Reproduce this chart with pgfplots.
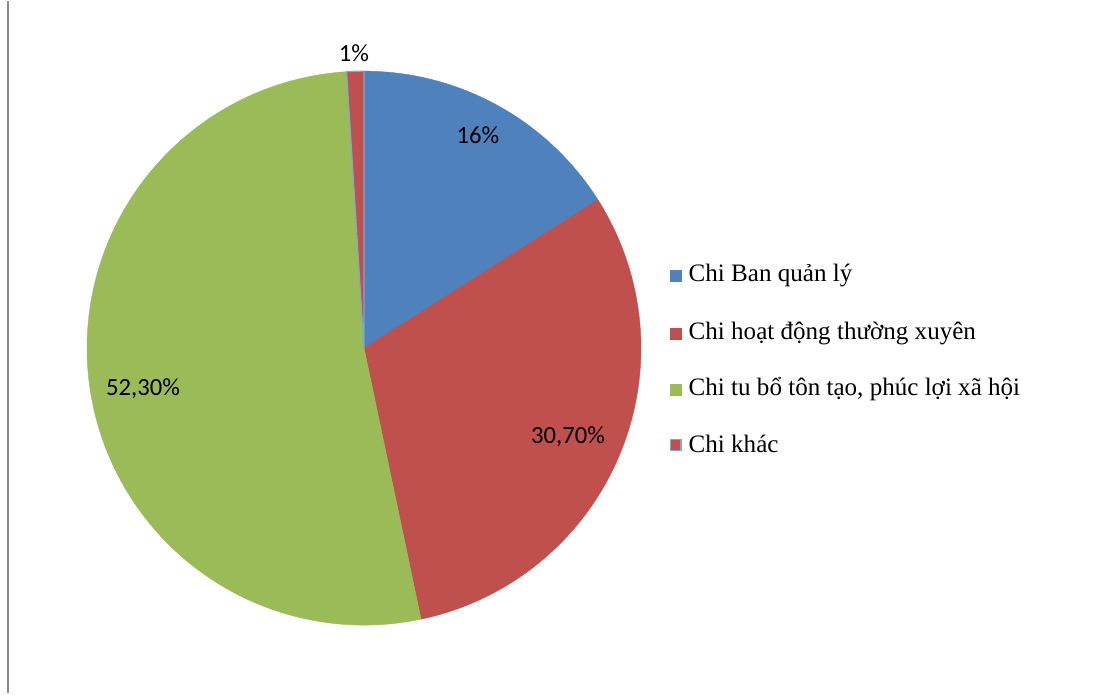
\documentclass[border=0pt]{standalone}
\usepackage{fontspec}
\setmainfont{Liberation Serif}
\newfontfamily\lab{Carlito}
\usepackage{pgfplots}
\pgfplotsset{compat=1.18}
\definecolor{cblue}{HTML}{4F81BD}
\definecolor{cred}{HTML}{C0504D}
\definecolor{cgreen}{HTML}{9BBB59}
\definecolor{cedge}{HTML}{7FA6D6}
\definecolor{cframe}{HTML}{8A8A8A}
% shares (percent), clockwise from 12 o'clock
\def\vA{16}\def\vB{30.7}\def\vC{52.3}\def\vD{1}
\pgfmathsetmacro{\aO}{90}
\pgfmathsetmacro{\aA}{\aO-3.6*\vA}
\pgfmathsetmacro{\aB}{\aA-3.6*\vB}
\pgfmathsetmacro{\aC}{\aB-3.6*\vC}
\pgfmathsetmacro{\aD}{\aC-3.6*\vD}
\begin{document}
\begin{tikzpicture}
\begin{axis}[
  width=828.75pt, height=519pt, scale only axis,
  xmin=0, xmax=1105, ymin=0, ymax=692,
  hide axis, clip=false,
]
\addplot[draw=none] coordinates {(0,0) (1105,692)};
\addplot[color=cframe, line width=1.7pt] coordinates {(8,0) (8,692)};
% wedges
\addplot[fill=cblue, draw=cblue, line width=0.3pt, domain=\aA:\aO, samples=60, variable=\t]
  ({364+277*cos(t)},{345+277*sin(t)}) -- (axis cs:364,345) -- cycle;
\addplot[fill=cred, draw=cred, line width=0.3pt, domain=\aB:\aA, samples=90, variable=\t]
  ({364+277*cos(t)},{345+277*sin(t)}) -- (axis cs:364,345) -- cycle;
\addplot[fill=cgreen, draw=cgreen, line width=0.3pt, domain=\aC:\aB, samples=150, variable=\t]
  ({364+277*cos(t)},{345+277*sin(t)}) -- (axis cs:364,345) -- cycle;
\addplot[fill=cred, draw=cedge, line width=0.9pt, domain=\aD:\aC, samples=10, variable=\t]
  ({364+277*cos(t)},{345+277*sin(t)}) -- (axis cs:364,345) -- cycle;
% data labels
\node[font=\lab\fontsize{18.5pt}{21pt}\selectfont] at (axis cs:354,640) {1\%};
\node[font=\lab\fontsize{18.5pt}{21pt}\selectfont] at (axis cs:478,558) {16\%};
\node[font=\lab\fontsize{18.5pt}{21pt}\selectfont] at (axis cs:568,256) {30,70\%};
\node[font=\lab\fontsize{18.5pt}{21pt}\selectfont] at (axis cs:143,304) {52,30\%};
% legend
\addplot[only marks, mark=square*, mark size=4.1pt, color=cblue] coordinates {(675.5,417)};
\addplot[only marks, mark=square*, mark size=4.1pt, color=cred] coordinates {(675.5,359)};
\addplot[only marks, mark=square*, mark size=4.1pt, color=cgreen] coordinates {(675.5,303)};
\addplot[only marks, mark=square*, mark size=4.1pt, color=cred, mark options={draw=cedge, line width=0.8pt}] coordinates {(675.5,248)};
\node[anchor=west, font=\fontsize{18.8pt}{22pt}\selectfont] at (axis cs:684,418) {Chi Ban quản lý};
\node[anchor=west, font=\fontsize{18.8pt}{22pt}\selectfont] at (axis cs:684,360) {Chi hoạt động thường xuyên};
\node[anchor=west, font=\fontsize{18.8pt}{22pt}\selectfont] at (axis cs:684,304) {Chi tu bổ tôn tạo, phúc lợi xã hội};
\node[anchor=west, font=\fontsize{18.8pt}{22pt}\selectfont] at (axis cs:684,249) {Chi khác};
\end{axis}
\end{tikzpicture}
\end{document}
